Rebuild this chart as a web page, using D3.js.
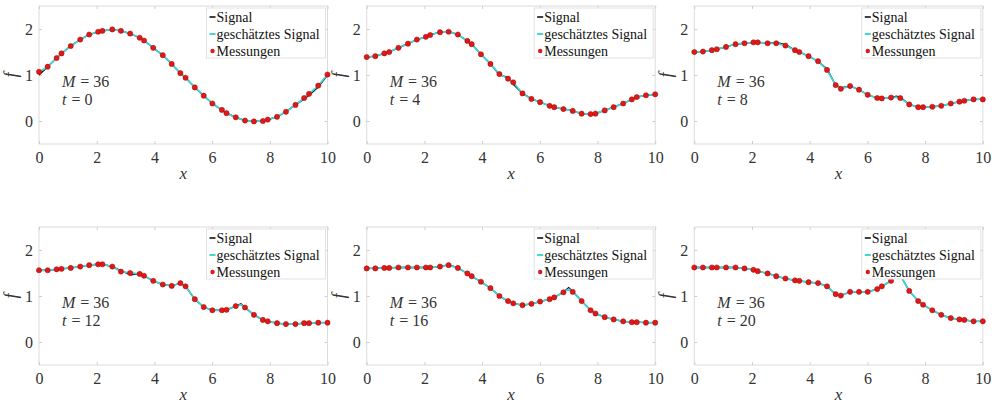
<!DOCTYPE html>
<html>
<head>
<meta charset="utf-8">
<script src="https://cdn.jsdelivr.net/npm/d3@7"></script>
<style>
  html, body { margin: 0; padding: 0; background: #fff; }
  svg { display: block; }
  svg text { font-family: "Liberation Serif", "Times New Roman", "DejaVu Serif", serif; }
</style>
</head>
<body>
<svg id="chart" width="992" height="403"></svg>
<script>
// ---------- data ----------
const xTicks = [0, 2, 4, 6, 8, 10];
const yTicks = [0, 1, 2];
const legendLabels = ["Signal", "geschätztes Signal", "Messungen"];
const timeLabels = [0, 4, 8, 12, 16, 20];
const sensorCount = 36;

// measurement positions (red dots)
const xMeas = [0, 0.30, 0.61, 0.78, 1.10, 1.43, 1.74, 2.05, 2.20, 2.54, 2.84, 3.16, 3.49, 3.64, 3.96, 4.29, 4.60, 4.90,
  5.08, 5.40, 5.71, 6.01, 6.34, 6.50, 6.82, 7.14, 7.45, 7.76, 7.93, 8.25, 8.56, 8.89, 9.19, 9.36, 9.68, 10];
// grid of the signal curves
const xCurve = [0, 0.30, 0.61, 0.78, 1.10, 1.43, 1.74, 2.05, 2.20, 2.54, 2.84, 3.16, 3.49, 3.64, 3.96, 4.29, 4.60, 4.90,
  5.08, 5.40, 5.71, 6.01, 6.34, 6.50, 6.82, 7.00, 7.14, 7.45, 7.76, 7.93, 8.25, 8.56, 8.89, 9.19, 9.36, 9.68, 10];

const measT0 = [1.07, 1.18, 1.37, 1.47, 1.63, 1.77, 1.88, 1.94, 1.96, 1.99, 1.96, 1.90, 1.81, 1.75, 1.59, 1.43, 1.24, 1.04,
  0.94, 0.73, 0.55, 0.38, 0.24, 0.17, 0.08, 0.01, -0.01, 0.00, 0.03, 0.09, 0.20, 0.35, 0.50, 0.59, 0.77, 1.01];
const measT4 = [1.39, 1.41, 1.47, 1.50, 1.59, 1.68, 1.77, 1.83, 1.87, 1.93, 1.94, 1.88, 1.74, 1.67, 1.45, 1.24, 1.02, 0.92,
  0.84, 0.60, 0.48, 0.41, 0.33, 0.30, 0.26, 0.22, 0.16, 0.15, 0.16, 0.23, 0.30, 0.38, 0.47, 0.52, 0.56, 0.58];
const measT8 = [1.50, 1.51, 1.54, 1.56, 1.61, 1.67, 1.69, 1.71, 1.71, 1.69, 1.69, 1.64, 1.54, 1.50, 1.41, 1.30, 1.11, 0.78,
  0.70, 0.76, 0.68, 0.57, 0.50, 0.49, 0.51, 0.50, 0.36, 0.30, 0.30, 0.31, 0.33, 0.38, 0.42, 0.44, 0.47, 0.47];
const measT12 = [1.56, 1.56, 1.58, 1.59, 1.61, 1.64, 1.67, 1.69, 1.69, 1.64, 1.53, 1.50, 1.48, 1.44, 1.33, 1.25, 1.22, 1.28,
  1.21, 0.93, 0.76, 0.69, 0.69, 0.70, 0.78, 0.75, 0.59, 0.48, 0.45, 0.41, 0.39, 0.39, 0.41, 0.41, 0.42, 0.42];
const measT16 = [1.60, 1.60, 1.61, 1.61, 1.62, 1.62, 1.62, 1.62, 1.62, 1.64, 1.67, 1.61, 1.49, 1.43, 1.31, 1.17, 1.00, 0.89,
  0.84, 0.80, 0.83, 0.88, 0.93, 0.97, 1.08, 1.09, 0.89, 0.69, 0.62, 0.54, 0.49, 0.45, 0.43, 0.43, 0.42, 0.42];
const measT20 = [1.62, 1.62, 1.62, 1.62, 1.62, 1.62, 1.60, 1.57, 1.54, 1.49, 1.43, 1.38, 1.34, 1.33, 1.30, 1.28, 1.21, 1.04,
  1.01, 1.09, 1.09, 1.09, 1.15, 1.21, 1.33, 1.45, 1.11, 0.89, 0.81, 0.69, 0.59, 0.52, 0.49, 0.48, 0.45, 0.45];

const estT0 = [1.06, 1.18, 1.37, 1.47, 1.63, 1.77, 1.88, 1.94, 1.96, 1.99, 1.96, 1.90, 1.81, 1.75, 1.59, 1.43, 1.24, 1.04,
  0.94, 0.73, 0.55, 0.38, 0.24, 0.17, 0.08, 0.04, 0.01, -0.01, 0.00, 0.03, 0.09, 0.20, 0.35, 0.50, 0.59, 0.77, 1.01];
const estT4 = [1.39, 1.41, 1.47, 1.50, 1.59, 1.68, 1.77, 1.83, 1.87, 1.93, 1.94, 1.88, 1.74, 1.67, 1.45, 1.24, 1.02, 0.92,
  0.84, 0.60, 0.48, 0.41, 0.33, 0.30, 0.26, 0.24, 0.22, 0.16, 0.15, 0.16, 0.23, 0.30, 0.38, 0.47, 0.52, 0.56, 0.58];
const estT8 = [1.50, 1.51, 1.54, 1.56, 1.61, 1.67, 1.69, 1.71, 1.71, 1.69, 1.69, 1.64, 1.54, 1.50, 1.41, 1.30, 1.11, 0.78,
  0.70, 0.76, 0.68, 0.57, 0.50, 0.49, 0.51, 0.52, 0.50, 0.36, 0.30, 0.30, 0.31, 0.33, 0.38, 0.42, 0.44, 0.47, 0.47];
const estT12 = [1.56, 1.56, 1.58, 1.59, 1.61, 1.64, 1.67, 1.69, 1.69, 1.64, 1.53, 1.50, 1.48, 1.44, 1.33, 1.25, 1.22, 1.28,
  1.21, 0.93, 0.76, 0.69, 0.69, 0.70, 0.78, 0.81, 0.75, 0.59, 0.48, 0.45, 0.41, 0.39, 0.39, 0.41, 0.41, 0.42, 0.42];
const estT16 = [1.60, 1.60, 1.61, 1.61, 1.62, 1.62, 1.62, 1.62, 1.62, 1.64, 1.67, 1.61, 1.49, 1.43, 1.31, 1.17, 1.00, 0.89,
  0.84, 0.80, 0.83, 0.88, 0.93, 0.97, 1.08, 1.15, 1.09, 0.89, 0.69, 0.62, 0.54, 0.49, 0.45, 0.43, 0.43, 0.42, 0.42];
const estT20 = [1.62, 1.62, 1.62, 1.62, 1.62, 1.62, 1.60, 1.57, 1.54, 1.49, 1.43, 1.38, 1.34, 1.33, 1.30, 1.28, 1.21, 1.04,
  1.01, 1.09, 1.09, 1.09, 1.15, 1.21, 1.33, 1.55, 1.45, 1.11, 0.89, 0.81, 0.69, 0.59, 0.52, 0.49, 0.48, 0.45, 0.45];

const sigT0 = [1.00, 1.18, 1.37, 1.47, 1.63, 1.77, 1.88, 1.94, 1.96, 1.99, 1.96, 1.90, 1.81, 1.75, 1.59, 1.43, 1.24, 1.04,
  0.94, 0.73, 0.55, 0.38, 0.24, 0.17, 0.08, 0.04, 0.01, -0.01, 0.00, 0.03, 0.09, 0.20, 0.35, 0.48, 0.56, 0.74, 1.00];
const sigT4 = [1.39, 1.41, 1.47, 1.50, 1.59, 1.68, 1.77, 1.83, 1.87, 1.93, 1.95, 1.88, 1.74, 1.67, 1.45, 1.24, 1.00, 0.95,
  0.80, 0.60, 0.48, 0.41, 0.33, 0.30, 0.26, 0.24, 0.22, 0.16, 0.15, 0.16, 0.23, 0.30, 0.38, 0.47, 0.52, 0.56, 0.58];
const sigT8 = [1.50, 1.51, 1.54, 1.56, 1.61, 1.67, 1.69, 1.71, 1.71, 1.69, 1.71, 1.66, 1.54, 1.50, 1.41, 1.30, 1.13, 0.78,
  0.72, 0.76, 0.68, 0.57, 0.50, 0.49, 0.51, 0.54, 0.52, 0.36, 0.30, 0.30, 0.31, 0.33, 0.38, 0.42, 0.44, 0.47, 0.47];
const sigT12 = [1.56, 1.56, 1.58, 1.59, 1.61, 1.64, 1.67, 1.69, 1.69, 1.64, 1.55, 1.46, 1.48, 1.44, 1.33, 1.25, 1.22, 1.28,
  1.21, 0.93, 0.76, 0.69, 0.69, 0.70, 0.78, 0.83, 0.75, 0.59, 0.48, 0.45, 0.41, 0.39, 0.39, 0.41, 0.41, 0.42, 0.42];
const sigT16 = [1.60, 1.60, 1.61, 1.61, 1.62, 1.62, 1.62, 1.62, 1.62, 1.64, 1.68, 1.61, 1.49, 1.43, 1.31, 1.17, 1.00, 0.89,
  0.84, 0.80, 0.83, 0.88, 0.93, 0.97, 1.08, 1.18, 1.10, 0.89, 0.69, 0.62, 0.54, 0.49, 0.45, 0.43, 0.43, 0.42, 0.42];
const sigT20 = [1.62, 1.62, 1.62, 1.62, 1.62, 1.62, 1.60, 1.57, 1.54, 1.49, 1.43, 1.38, 1.34, 1.33, 1.30, 1.28, 1.21, 1.04,
  1.01, 1.09, 1.09, 1.09, 1.15, 1.21, 1.33, 1.55, 1.45, 1.11, 0.89, 0.81, 0.69, 0.59, 0.52, 0.49, 0.48, 0.45, 0.45];

const panels = [
  { t: timeLabels[0], meas: measT0, est: estT0, sig: sigT0 },
  { t: timeLabels[1], meas: measT4, est: estT4, sig: sigT4 },
  { t: timeLabels[2], meas: measT8, est: estT8, sig: sigT8 },
  { t: timeLabels[3], meas: measT12, est: estT12, sig: sigT12 },
  { t: timeLabels[4], meas: measT16, est: estT16, sig: sigT16 },
  { t: timeLabels[5], meas: measT20, est: estT20, sig: sigT20 }
];

// ---------- layout ----------
const colLeft = [39, 366.7, 694.3];
const rowTop = [6, 227];
const plotW = 288.5, plotH = 138;
const serif = '"Liberation Serif", "Times New Roman", "DejaVu Serif", serif';
const frameColor = "#dcdcdc";
const textColor = "#333";
const cyan = "#3fd6d6";
const red = "#dd1a1a";

const svg = d3.select("#chart");

function styleText(sel, size, italic) {
  sel.style("font-family", serif).style("font-size", size + "px")
    .style("font-style", italic ? "italic" : "normal");
  return sel;
}

panels.forEach((p, i) => {
  const left = colLeft[i % 3], top = rowTop[Math.floor(i / 3)];
  const x = d3.scaleLinear().domain([0, 10]).range([left, left + plotW]);
  const y = d3.scaleLinear().domain([-0.5, 2.5]).range([top + plotH, top]);
  const g = svg.append("g");

  // frame
  g.append("rect").attr("x", left).attr("y", top).attr("width", plotW).attr("height", plotH)
    .attr("fill", "#fff").attr("stroke", frameColor).attr("stroke-width", 1);

  // axes via d3.axis (inner ticks)
  const xAxis = g.append("g").attr("transform", `translate(0,${top + plotH})`)
    .call(d3.axisBottom(x).tickValues(xTicks).tickSize(-3).tickPadding(8).tickFormat(d3.format("d")));
  const xAxisTop = g.append("g").attr("transform", `translate(0,${top})`)
    .call(d3.axisTop(x).tickValues(xTicks).tickSize(-3).tickFormat(""));
  const yAxis = g.append("g").attr("transform", `translate(${left},0)`)
    .call(d3.axisLeft(y).tickValues(yTicks).tickSize(-3).tickPadding(6).tickFormat(d3.format("d")));
  const yAxisRight = g.append("g").attr("transform", `translate(${left + plotW},0)`)
    .call(d3.axisRight(y).tickValues(yTicks).tickSize(-3).tickFormat(""));
  [xAxis, xAxisTop, yAxis, yAxisRight].forEach(a => {
    a.attr("font-family", null).attr("font-size", null);
    a.select(".domain").remove();
    a.selectAll(".tick line").attr("stroke", "#cfcfcf");
    styleText(a.selectAll(".tick text"), 16, false).attr("fill", textColor);
  });

  // axis labels
  styleText(g.append("text"), 17, true).attr("x", left + plotW / 2).attr("y", top + plotH + 35)
    .attr("text-anchor", "middle").attr("fill", textColor).text("x");
  styleText(g.append("text"), 18, true)
    .attr("transform", `translate(${left - 22},${top + plotH / 2}) rotate(-90)`)
    .attr("text-anchor", "middle").attr("fill", textColor).text("f");

  // lines
  const sigPts = xCurve.map((xv, k) => [xv, p.sig[k]]);
  const estPts = xCurve.map((xv, k) => [xv, p.est[k]]);
  const line = d3.line().x(d => x(d[0])).y(d => y(d[1]));
  g.append("path").attr("d", line(sigPts)).attr("fill", "none").attr("stroke", "#000").attr("stroke-width", 1.3);
  g.append("path").attr("d", line(estPts)).attr("fill", "none").attr("stroke", cyan).attr("stroke-width", 1.8);

  // measurements
  g.selectAll("circle.m").data(xMeas.map((xv, k) => [xv, p.meas[k]])).enter()
    .append("circle").attr("class", "m")
    .attr("cx", d => x(d[0])).attr("cy", d => y(d[1])).attr("r", 2.6)
    .attr("fill", red).attr("stroke", "#b30000").attr("stroke-width", 0.5);

  // annotation: one text per line, symbol in italic
  const annX = left + 23;
  [["M", "= " + sensorCount, top + 81], ["t", "= " + p.t, top + 99]].forEach(([sym, rest, yy]) => {
    const t = styleText(g.append("text"), 16, false).attr("x", annX).attr("y", yy).attr("fill", textColor);
    t.append("tspan").style("font-style", "italic").text(sym);
    t.append("tspan").attr("dx", 5).text(rest);
  });

  // legend
  const lw = 119, lh = 50;
  const lx = left + plotW - lw - 2, ly = top + 2;
  const lg = g.append("g");
  lg.append("rect").attr("x", lx).attr("y", ly).attr("width", lw).attr("height", lh)
    .attr("fill", "#fff").attr("stroke", "#e2e2e2").attr("stroke-width", 1);
  legendLabels.forEach((lab, k) => {
    const cy = ly + 9 + k * 17;
    if (k === 0) {
      lg.append("line").attr("x1", lx + 3).attr("x2", lx + 9).attr("y1", cy).attr("y2", cy)
        .attr("stroke", "#000").attr("stroke-width", 1.5);
    } else if (k === 1) {
      lg.append("line").attr("x1", lx + 3).attr("x2", lx + 9).attr("y1", cy).attr("y2", cy)
        .attr("stroke", cyan).attr("stroke-width", 2);
    } else {
      lg.append("circle").attr("cx", lx + 6).attr("cy", cy).attr("r", 2.2).attr("fill", red);
    }
    styleText(lg.append("text"), 14, false).attr("x", lx + 10).attr("y", cy).attr("dy", "0.33em")
      .attr("fill", "#111").text(lab);
  });
});
</script>
</body>
</html>
